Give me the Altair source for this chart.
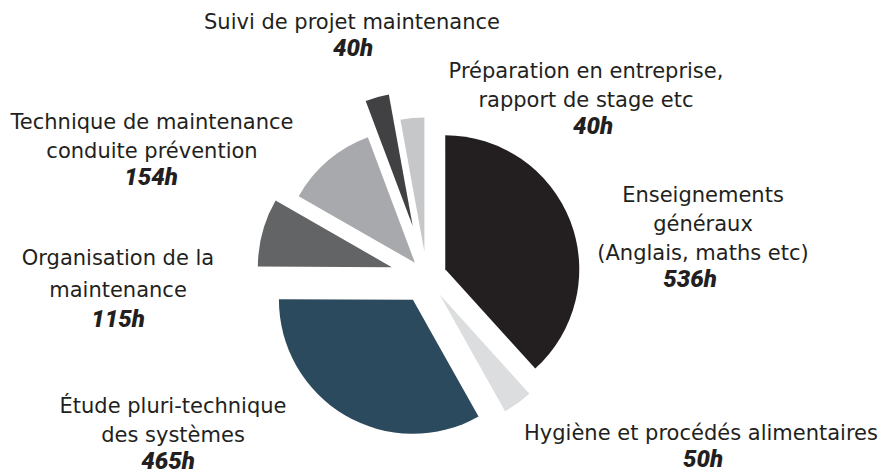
import math
import altair as alt
import pandas as pd

# ---------------- data ----------------
categories = [
    "Enseignements généraux (Anglais, maths etc)",
    "Hygiène et procédés alimentaires",
    "Étude pluri-technique des systèmes",
    "Organisation de la maintenance",
    "Technique de maintenance conduite prévention",
    "Suivi de projet maintenance",
    "Préparation en entreprise, rapport de stage etc",
]
hours = [536, 50, 465, 115, 154, 40, 40]
label_lines = [
    ["Enseignements", "généraux", "(Anglais, maths etc)"],
    ["Hygiène et procédés alimentaires"],
    ["Étude pluri-technique", "des systèmes"],
    ["Organisation de la", "maintenance"],
    ["Technique de maintenance", "conduite prévention"],
    ["Suivi de projet maintenance"],
    ["Préparation en entreprise,", "rapport de stage etc"],
]

# ---------------- style ----------------
colors = ["#231f20", "#dcdddf", "#2b4a5e", "#636466", "#a7a9ac", "#414042", "#c6c7c9"]
explode = [20, 22, 27, 36, 18, 52, 25]          # radial offset of each slice (px)
pie_cx, pie_cy, radius = 418.6, 268.5, 134
label_x = [695, 693, 165, 110, 144, 344, 578]    # centre of each label block
label_y = [194, 432, 405, 257, 121, 21, 70]      # baseline of first line
number_x = [682, 695, 160, 110, 143, 345, 585]
line_h = [29, 29, 29, 32, 29, 29, 29]
W, H = 872, 465
text_color = "#231f20"

# ---------------- derived table ----------------
total = sum(hours)
rows = []
cum = 0
for i, (c, h) in enumerate(zip(categories, hours)):
    mid = (cum + h / 2) / total * 2 * math.pi
    rows.append({
        "order": i, "category": c, "hours": h,
        "start": cum, "end": cum + h,
        "cx": pie_cx + explode[i] * math.sin(mid),
        "cy": pie_cy - explode[i] * math.cos(mid),
    })
    cum += h
slices = pd.DataFrame(rows)

txt_rows, num_rows = [], []
for i, lines in enumerate(label_lines):
    for j, line in enumerate(lines):
        txt_rows.append({"t": line, "x": label_x[i], "y": label_y[i] + j * line_h[i]})
    num_rows.append({"t": f"{hours[i]}h", "x": number_x[i],
                     "y": label_y[i] + len(lines) * line_h[i] - 2})
texts = pd.DataFrame(txt_rows)
nums = pd.DataFrame(num_rows)

theta_scale = alt.Scale(domain=[0, total], range=[0, 2 * math.pi])

pie = alt.Chart(slices).mark_arc(outerRadius=radius).encode(
    theta=alt.Theta("start:Q", scale=theta_scale),
    theta2="end:Q",
    x=alt.X("cx:Q", scale=None),
    y=alt.Y("cy:Q", scale=None),
    color=alt.Color("category:N", scale=alt.Scale(domain=categories, range=colors), legend=None),
)

labels = alt.Chart(texts).mark_text(
    font="DejaVu Sans", fontSize=21, color=text_color, align="center", baseline="alphabetic"
).encode(x=alt.X("x:Q", scale=None), y=alt.Y("y:Q", scale=None), text="t:N")

numbers = alt.Chart(nums).mark_text(
    font="Roboto", fontSize=24, fontWeight=900, fontStyle="italic", color=text_color,
    align="center", baseline="alphabetic"
).encode(x=alt.X("x:Q", scale=None), y=alt.Y("y:Q", scale=None), text="t:N")

chart = alt.layer(pie, labels, numbers).properties(
    width=W, height=H, padding=0, autosize="none", background="white"
).configure_view(stroke=None)

chart.save("out.html", embed_options={"renderer": "svg", "actions": False})
